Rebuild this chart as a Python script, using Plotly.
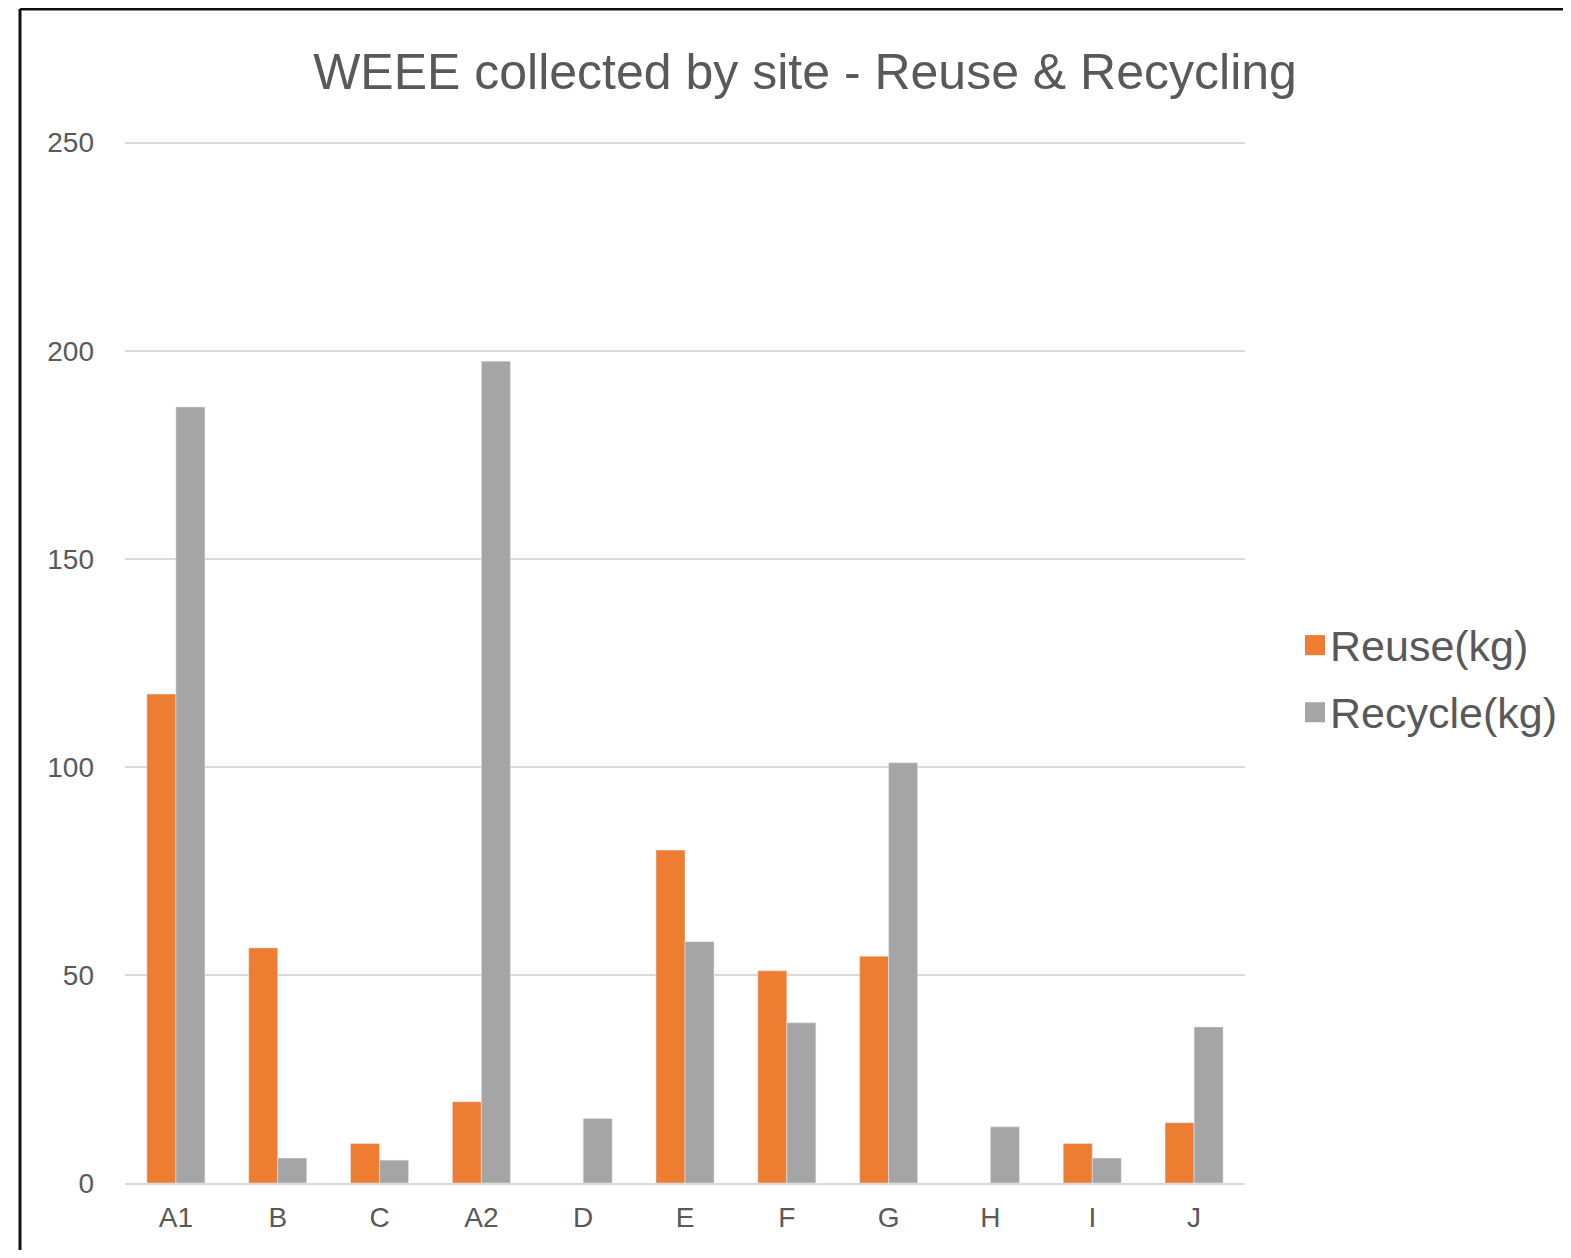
import plotly.graph_objects as go

sites = ["A1", "B", "C", "A2", "D", "E", "F", "G", "H", "I", "J"]
reuse_kg = [117.5, 56.5, 9.5, 19.5, 0, 80, 51, 54.5, 0, 9.5, 14.5]
recycle_kg = [186.5, 6, 5.5, 197.5, 15.5, 58, 38.5, 101, 13.5, 6, 37.5]
series_names = ["Reuse(kg)", "Recycle(kg)"]
series_colors = ["#ED7D31", "#A5A5A5"]
y_ticks = [0, 50, 100, 150, 200, 250]

# page has an 8px body margin; figure coordinates are page coordinates minus 8
OFF = 8
W, H = 1563, 1242
L, R, T, B = 125 - OFF, 1245 - OFF, 141 - OFF, 1183 - OFF
YMAX = 250.4

fig = go.Figure()
for name, vals, col in zip(series_names, [reuse_kg, recycle_kg], series_colors):
    fig.add_trace(go.Bar(x=sites, y=vals, name=name, marker_color=col, showlegend=False))


def px(xp):
    return (xp - OFF - L) / (R - L)


def py(yp):
    return (B - (yp - OFF)) / (B - T) * (YMAX / 250)


shapes = [
    dict(type="line", xref="paper", yref="paper", x0=px(20), x1=px(1600), y0=py(11), y1=py(11),
         line=dict(color="#111111", width=3)),
    dict(type="line", xref="paper", yref="paper", x0=px(20), x1=px(20), y0=py(11), y1=py(1270),
         line=dict(color="#111111", width=3)),
    dict(type="line", xref="paper", yref="paper", x0=px(20), x1=px(1600), y0=py(1256), y1=py(1256),
         line=dict(color="#e3e3e3", width=2)),
]
annotations = []
legend_rows = [646, 713]
for name, col, yc in zip(series_names, series_colors, legend_rows):
    shapes.append(dict(type="rect", xref="paper", yref="paper", x0=px(1305), x1=px(1325),
                       y0=py(yc + 10), y1=py(yc - 10), fillcolor=col, line=dict(width=0)))
    annotations.append(dict(text=name, xref="paper", yref="paper", x=px(1328), y=py(yc + 1),
                            xanchor="left", yanchor="middle", showarrow=False,
                            font=dict(size=43, color="#595959")))

fig.update_layout(
    width=W, height=H,
    margin=dict(l=L, r=W - R, t=T, b=H - B),
    paper_bgcolor="white", plot_bgcolor="white",
    barmode="group", bargap=0.43, bargroupgap=0,
    font=dict(family="Liberation Sans, Arial, sans-serif", color="#595959"),
    title=dict(text="WEEE collected by site - Reuse &amp; Recycling", x=(805 - OFF) / W, xref="container",
               xanchor="center", y=1 - (71 - OFF) / H, yref="container", yanchor="middle",
               font=dict(size=50, color="#595959")),
    shapes=shapes,
    annotations=annotations,
    showlegend=False,
)
fig.update_xaxes(showgrid=False, showline=True, linecolor="#d9d9d9", linewidth=2,
                 tickfont=dict(size=28, color="#595959"), ticks="", ticklen=0,
                 ticklabelstandoff=8)
fig.update_yaxes(range=[0, YMAX], tickvals=y_ticks, showgrid=True, gridcolor="#d9d9d9", gridwidth=2,
                 zeroline=False, showline=False, tickfont=dict(size=28, color="#595959"),
                 ticklabelstandoff=30)

fig.write_html("out.html")
